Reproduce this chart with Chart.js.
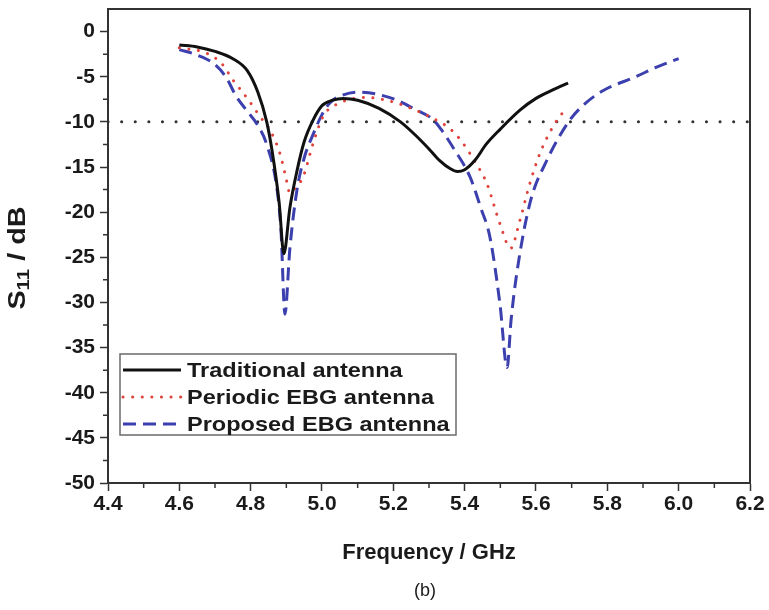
<!DOCTYPE html>
<html>
<head>
<meta charset="utf-8">
<script src="https://cdn.jsdelivr.net/npm/chart.js@4/dist/chart.umd.min.js"></script>
<style>
  html, body { margin: 0; padding: 0; background: #fff; }
  #wrap { width: 769px; height: 610px; }
</style>
</head>
<body>
<div id="wrap"><canvas id="s11-chart"></canvas></div>
<script>
// Axis ticks
const X_TICKS = [4.4, 4.6, 4.8, 5.0, 5.2, 5.4, 5.6, 5.8, 6.0, 6.2];
const Y_TICKS = [-50, -45, -40, -35, -30, -25, -20, -15, -10, -5, 0];

// Traditional antenna
const tradFreq = [4.60, 4.65, 4.70, 4.75, 4.79, 4.82, 4.845, 4.86, 4.88, 4.893, 4.91, 4.93, 4.95, 4.975, 5.00, 5.03, 5.06, 5.10, 5.16, 5.22, 5.26, 5.30, 5.33, 5.36, 5.38, 5.40, 5.43, 5.46, 5.50, 5.555, 5.60, 5.65, 5.69];
const tradS11 = [-1.5, -1.7, -2.2, -3.0, -4.3, -6.7, -10.0, -13.2, -19.0, -24.6, -19.5, -15.4, -12.2, -9.8, -8.2, -7.6, -7.4, -7.6, -8.5, -10.0, -11.4, -13.0, -14.3, -15.2, -15.5, -15.3, -14.2, -12.5, -10.8, -8.7, -7.4, -6.4, -5.7];

// Periodic EBG antenna
const periFreq = [4.60, 4.677, 4.72, 4.751, 4.775, 4.798, 4.826, 4.854, 4.882, 4.898, 4.910, 4.925, 4.947, 4.975, 5.003, 5.05, 5.125, 5.18, 5.237, 5.32, 5.36, 5.396, 5.43, 5.462, 5.499, 5.529, 5.555, 5.583, 5.611, 5.648, 5.676];
const periS11 = [-1.8, -2.4, -3.6, -5.4, -6.6, -7.8, -9.4, -10.9, -13.5, -16.0, -17.9, -17.3, -16.1, -12.4, -9.4, -7.9, -7.3, -7.6, -8.3, -9.8, -10.8, -12.4, -14.5, -16.8, -21.3, -24.0, -20.9, -16.8, -13.5, -10.5, -8.9];

// Proposed EBG antenna
const propFreq = [4.60, 4.65, 4.695, 4.73, 4.76, 4.79, 4.817, 4.845, 4.873, 4.885, 4.896, 4.91, 4.93, 4.95, 4.976, 5.00, 5.022, 5.06, 5.10, 5.15, 5.21, 5.26, 5.31, 5.335, 5.37, 5.415, 5.445, 5.471, 5.499, 5.519, 5.53, 5.546, 5.583, 5.63, 5.695, 5.74, 5.79, 5.88, 5.94, 6.00];
const propS11 = [-2.0, -2.6, -3.5, -5.0, -7.2, -8.8, -10.2, -12.5, -17.2, -22.0, -31.3, -24.0, -17.5, -14.0, -11.3, -9.2, -7.9, -7.0, -6.7, -6.9, -7.6, -8.6, -9.7, -10.9, -13.0, -16.1, -19.5, -22.8, -30.2, -37.2, -32.0, -26.8, -19.0, -14.3, -9.8, -7.9, -6.5, -5.0, -3.9, -3.0];

// -10 dB reference line
const refFreq = [4.4, 6.2];
const refS11 = [-10, -10];

const FONT = '"Liberation Sans", Arial, sans-serif';
const INK = '#1a1a1a';
const AXIS = '#333333';

const toXY = (xs, ys) => xs.map((x, i) => ({ x, y: ys[i] }));

const framePlugin = {
  id: 'frame',
  afterDraw(c) {
    const ctx = c.ctx;
    const { left, right, top, bottom } = c.chartArea;
    const xs = c.scales.x;
    const ys = c.scales.y;
    ctx.save();
    // top and right edges of the box
    ctx.strokeStyle = AXIS;
    ctx.lineWidth = 2;
    ctx.beginPath();
    ctx.moveTo(left, top);
    ctx.lineTo(right, top);
    ctx.lineTo(right, bottom);
    ctx.stroke();

    // minor ticks halfway between majors
    ctx.lineWidth = 1.5;
    ctx.beginPath();
    for (let i = 0; i < X_TICKS.length - 1; i++) {
      const px = xs.getPixelForValue((X_TICKS[i] + X_TICKS[i + 1]) / 2);
      ctx.moveTo(px, bottom);
      ctx.lineTo(px, bottom + 5);
    }
    for (let i = 0; i < Y_TICKS.length - 1; i++) {
      const py = ys.getPixelForValue((Y_TICKS[i] + Y_TICKS[i + 1]) / 2);
      ctx.moveTo(left, py);
      ctx.lineTo(left - 5, py);
    }
    ctx.stroke();

    // legend box
    const lx = 120, ly = 354, lw = 336, lh = 81;
    ctx.fillStyle = '#fff';
    ctx.fillRect(lx, ly, lw, lh);
    ctx.strokeStyle = '#6a6a6a';
    ctx.lineWidth = 1.5;
    ctx.strokeRect(lx, ly, lw, lh);
    c.data.datasets.slice(0, 3).forEach((ds, i) => {
      const ry = ly + 16 + i * 27;
      ctx.save();
      ctx.strokeStyle = ds.borderColor;
      ctx.lineWidth = ds.borderWidth;
      ctx.lineCap = ds.borderCapStyle || 'butt';
      ctx.setLineDash(ds.borderDash || []);
      ctx.beginPath();
      ctx.moveTo(lx + 3, ry);
      ctx.lineTo(lx + 61, ry);
      ctx.stroke();
      ctx.restore();
      // text is a bit wide in the original, stretch it horizontally
      ctx.save();
      ctx.translate(lx + 67, ry + 1);
      ctx.scale(1.12, 1);
      ctx.font = 'bold 21px ' + FONT;
      ctx.textBaseline = 'middle';
      ctx.textAlign = 'left';
      ctx.fillStyle = INK;
      ctx.fillText(ds.label, 0, 0);
      ctx.restore();
    });

    // y axis title with subscript
    ctx.translate(18, 258);
    ctx.rotate(-Math.PI / 2);
    ctx.scale(1.2, 1);
    ctx.fillStyle = INK;
    ctx.textBaseline = 'middle';
    const big = 'bold 24px ' + FONT;
    const small = 'bold 17px ' + FONT;
    ctx.font = big;
    const wS = ctx.measureText('S').width;
    const wRest = ctx.measureText(' / dB').width;
    ctx.font = small;
    const wSub = ctx.measureText('11').width;
    let px = -(wS + wSub + wRest) / 2;
    ctx.font = big;
    ctx.fillText('S', px, 0);
    px += wS;
    ctx.font = small;
    ctx.fillText('11', px, 6);
    px += wSub;
    ctx.font = big;
    ctx.fillText(' / dB', px, 0);
    ctx.restore();

    // caption
    ctx.save();
    ctx.fillStyle = INK;
    ctx.font = '18px ' + FONT;
    ctx.textAlign = 'center';
    ctx.textBaseline = 'middle';
    ctx.fillText('(b)', 425, 591);
    ctx.restore();
  },
};

const ctx = document.getElementById('s11-chart');
new Chart(ctx, {
  type: 'line',
  data: {
    datasets: [
      {
        label: 'Traditional antenna',
        data: toXY(tradFreq, tradS11),
        borderColor: '#111111',
        borderWidth: 3,
        cubicInterpolationMode: 'monotone',
      },
      {
        label: 'Periodic EBG antenna',
        data: toXY(periFreq, periS11),
        borderColor: '#e0423c',
        borderWidth: 3,
        borderDash: [0.1, 9.5],
        borderCapStyle: 'round',
        cubicInterpolationMode: 'monotone',
      },
      {
        label: 'Proposed EBG antenna',
        data: toXY(propFreq, propS11),
        borderColor: '#3c3fae',
        borderWidth: 3,
        borderDash: [13, 7],
        cubicInterpolationMode: 'monotone',
      },
      {
        label: 'ref',
        data: toXY(refFreq, refS11),
        borderColor: '#333333',
        borderWidth: 3,
        borderDash: [0.1, 13.5],
        borderCapStyle: 'round',
      },
    ],
  },
  options: {
    responsive: true,
    maintainAspectRatio: false,
    animation: false,
    events: [],
    layout: {
      padding: { top: 9, right: 19, bottom: 32, left: 0 },
    },
    elements: {
      point: { radius: 0 },
      line: { fill: false },
    },
    plugins: {
      legend: { display: false },
      tooltip: { enabled: false },
    },
    scales: {
      x: {
        type: 'linear',
        min: 4.4,
        max: 6.2,
        afterBuildTicks: (s) => { s.ticks = X_TICKS.map(v => ({ value: v })); },
        afterFit: (s) => {
          s.height = 95;
          s.paddingLeft = 0;
          s.paddingRight = 0;
        },
        border: { color: AXIS, width: 2 },
        grid: { drawOnChartArea: false, tickLength: 8, tickColor: AXIS, tickWidth: 1.5 },
        ticks: {
          padding: 1,
          color: INK,
          font: { family: FONT, size: 21, weight: 'bold' },
          callback: (v) => v.toFixed(1),
        },
        title: {
          display: true,
          text: 'Frequency / GHz',
          color: INK,
          font: { family: FONT, size: 22, weight: 'bold' },
          padding: { top: 0, bottom: 12 },
        },
      },
      y: {
        min: -50,
        max: 2.5,
        afterBuildTicks: (s) => { s.ticks = Y_TICKS.map(v => ({ value: v })); },
        afterFit: (s) => {
          s.width = 108;
          s.paddingTop = 0;
          s.paddingBottom = 0;
        },
        border: { color: AXIS, width: 2 },
        grid: { drawOnChartArea: false, tickLength: 8, tickColor: AXIS, tickWidth: 1.5 },
        ticks: {
          padding: 5,
          color: INK,
          font: { family: FONT, size: 21, weight: 'bold' },
        },
      },
    },
  },
  plugins: [framePlugin],
});
</script>
</body>
</html>
